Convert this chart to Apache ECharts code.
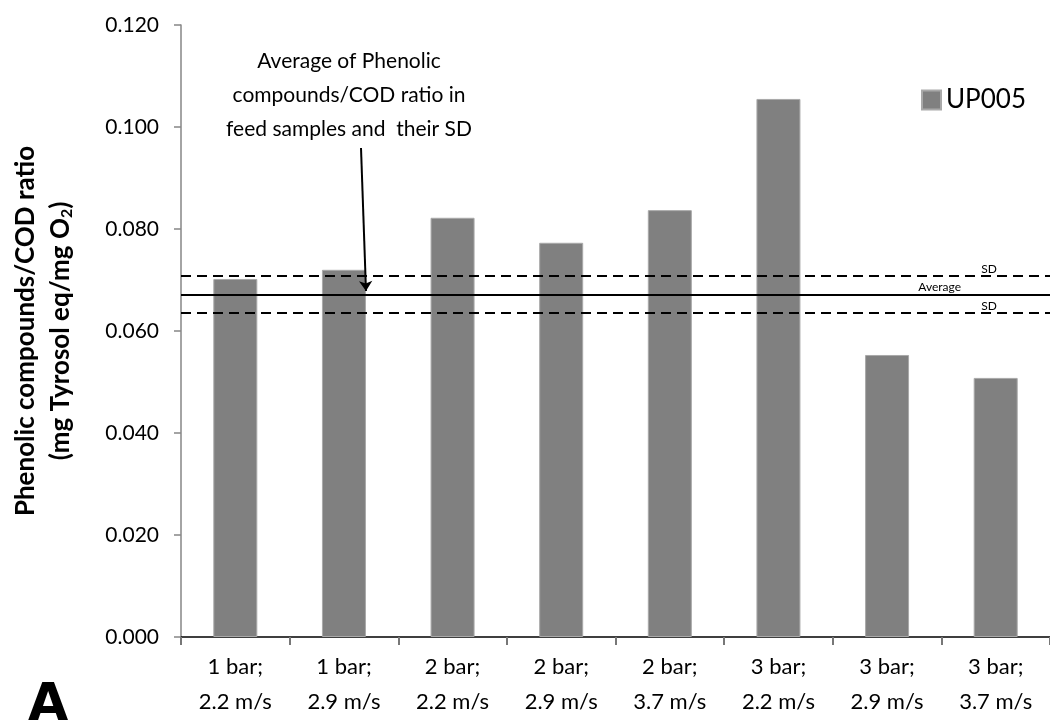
<!DOCTYPE html>
<html>
<head>
<meta charset="utf-8">
<script src="https://cdn.jsdelivr.net/npm/echarts@6/dist/echarts.min.js"></script>
<style>
  html, body { margin: 0; padding: 0; background: #fff; }
  #chart { width: 1050px; height: 720px; }
</style>
</head>
<body>
<div id="chart"></div>
<script>
// categories on the x axis
const categories = [
  "1 bar;\n2.2 m/s", "1 bar;\n2.9 m/s", "2 bar;\n2.2 m/s", "2 bar;\n2.9 m/s",
  "2 bar;\n3.7 m/s", "3 bar;\n2.2 m/s", "3 bar;\n2.9 m/s", "3 bar;\n3.7 m/s"
];
// phenolic compounds / COD ratio, membrane UP005
const up005 = [0.0702, 0.0720, 0.0822, 0.0773, 0.0837, 0.1055, 0.0553, 0.0508];
// feed samples: average and +/- SD
const feedAverage = 0.0672;
const feedSdUpper = 0.0708;
const feedSdLower = 0.0636;

const font = "Lato, 'Noto Sans', sans-serif";

const chart = echarts.init(document.getElementById("chart"));

const option = {
  animation: false,
  textStyle: { fontFamily: font },
  grid: { left: 181, top: 25, width: 875, height: 612, containLabel: false },
  legend: {
    left: 916,
    top: 82,
    icon: "rect",
    itemWidth: 19,
    itemHeight: 19,
    itemGap: 6,
    textStyle: { fontSize: 26, color: "#000", fontFamily: font },
    data: ["UP005"]
  },
  xAxis: {
    type: "category",
    data: categories,
    axisLine: { lineStyle: { color: "#000", width: 1.5 } },
    axisTick: { show: true, length: 8, lineStyle: { color: "#777", width: 2 } },
    axisLabel: {
      color: "#000",
      fontSize: 22,
      lineHeight: 35,
      margin: 12,
      interval: 0
    },
    splitLine: { show: false }
  },
  yAxis: {
    type: "value",
    min: 0,
    max: 0.12,
    interval: 0.02,
    name: "{b|Phenolic compounds/COD ratio}\n{b|(mg Tyrosol eq/mg O}{s|2}{b|)}",
    nameLocation: "middle",
    nameGap: 103,
    nameTextStyle: {
      rich: {
        b: { fontSize: 26, fontWeight: "bold", color: "#000", fontFamily: font, lineHeight: 35 },
        s: { fontSize: 16, fontWeight: "bold", color: "#000", fontFamily: font, padding: [12, 0, 0, 0] }
      }
    },
    axisLine: { show: true, lineStyle: { color: "#868686", width: 1.5 } },
    axisTick: { show: true, length: 7, lineStyle: { color: "#868686", width: 1.5 } },
    axisLabel: {
      color: "#000",
      fontSize: 21,
      margin: 22,
      formatter: function (v) { return v.toFixed(3); }
    },
    splitLine: { show: false }
  },
  graphic: [
    {
      type: "text",
      x: 349,
      y: 44,
      style: {
        text: "Average of Phenolic\ncompounds/COD ratio in\nfeed samples and  their SD",
        fontSize: 21,
        lineHeight: 34,
        fontFamily: font,
        fill: "#000",
        align: "center",
        verticalAlign: "top"
      }
    },
    {
      type: "text",
      x: 28,
      y: 680,
      style: {
        text: "A",
        fontSize: 52,
        fontWeight: "bold",
        fontFamily: "'DejaVu Sans', sans-serif",
        fill: "#000",
        verticalAlign: "top"
      }
    }
  ],
  series: [
    {
      name: "UP005",
      type: "bar",
      data: up005,
      barWidth: 44,
      itemStyle: { color: "#808080", borderColor: "#a9a9a9", borderWidth: 1 },
      markLine: {
        silent: true,
        precision: 4,
        symbol: ["none", "none"],
        animation: false,
        label: { show: false },
        data: [
          {
            yAxis: feedSdUpper,
            lineStyle: { color: "#000", width: 2, type: [10, 6] },
            label: {
              show: true, formatter: "SD", position: "insideEndTop",
              fontSize: 12, color: "#000", distance: 1, padding: [0, 52, 0, 0]
            }
          },
          {
            yAxis: feedAverage,
            lineStyle: { color: "#000", width: 2, type: "solid" },
            label: {
              show: true, formatter: "Average", position: "insideEndTop",
              fontSize: 12, color: "#000", distance: 1, padding: [0, 88, 0, 0]
            }
          },
          {
            yAxis: feedSdLower,
            lineStyle: { color: "#000", width: 2, type: [10, 6] },
            label: {
              show: true, formatter: "SD", position: "insideEndTop",
              fontSize: 12, color: "#000", distance: 1, padding: [0, 52, 0, 0]
            }
          },
          [
            { x: 361, y: 148, symbol: "none" },
            { x: 366, y: 291, symbol: "arrow", symbolSize: 10,
              lineStyle: { color: "#000", width: 2, type: "solid" } }
          ]
        ]
      }
    }
  ]
};

chart.setOption(option);
</script>
</body>
</html>
